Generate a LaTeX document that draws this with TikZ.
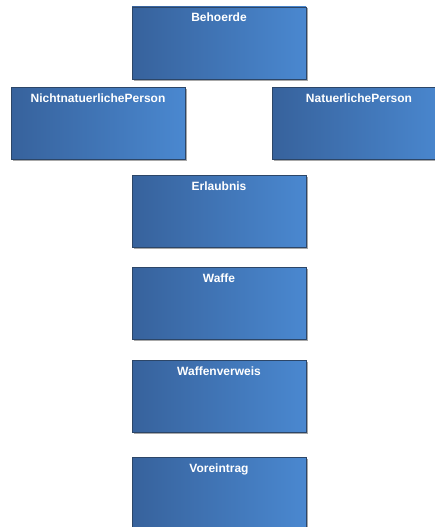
\documentclass[tikz,border=0pt]{standalone}
\usepackage{fontspec}
\setmainfont{Liberation Sans}
\usetikzlibrary{shadows}
\definecolor{boxdark}{HTML}{37629C}
\definecolor{boxlight}{HTML}{4A88D0}
\definecolor{boxedge}{HTML}{2C4668}
\definecolor{shadowgrey}{HTML}{A8A8A8}
\tikzset{
  entity/.style={rectangle, draw=boxedge, line width=0.8pt,
    left color=boxdark, right color=boxlight,
    minimum width=174pt, minimum height=72pt, inner sep=0pt, outer sep=0pt,
    drop shadow={shadow xshift=1.5pt, shadow yshift=-1.5pt, fill=shadowgrey, opacity=1}},
  title/.style={anchor=base, text=white, font=\bfseries\fontsize{12}{14}\selectfont, inner sep=0pt}
}
\begin{document}
\begin{tikzpicture}[x=1pt,y=-1pt]
\useasboundingbox (0,0) rectangle (435,527);
\clip (0,0) rectangle (435,527);
\fill[white] (0,0) rectangle (435,527);
\node[entity, anchor=north west] (behoerde) at (132,7) {};
\node[title] (tbehoerde) at ([yshift=-15pt]behoerde.north) {Behoerde};
\node[entity, anchor=north west] (nnp) at (11,87) {};
\node[title] (tnnp) at ([yshift=-15pt]nnp.north) {NichtnatuerlichePerson};
\node[entity, anchor=north west] (np) at (272,87) {};
\node[title] (tnp) at ([yshift=-15pt]np.north) {NatuerlichePerson};
\node[entity, anchor=north west] (erlaubnis) at (132,175) {};
\node[title] (terlaubnis) at ([yshift=-15pt]erlaubnis.north) {Erlaubnis};
\node[entity, anchor=north west] (waffe) at (132,267) {};
\node[title] (twaffe) at ([yshift=-15pt]waffe.north) {Waffe};
\node[entity, anchor=north west] (waffenverweis) at (132,360) {};
\node[title] (twv) at ([yshift=-15pt]waffenverweis.north) {Waffenverweis};
\node[entity, anchor=north west] (voreintrag) at (132,457) {};
\node[title] (tvor) at ([yshift=-15pt]voreintrag.north) {Voreintrag};
\end{tikzpicture}
\end{document}
